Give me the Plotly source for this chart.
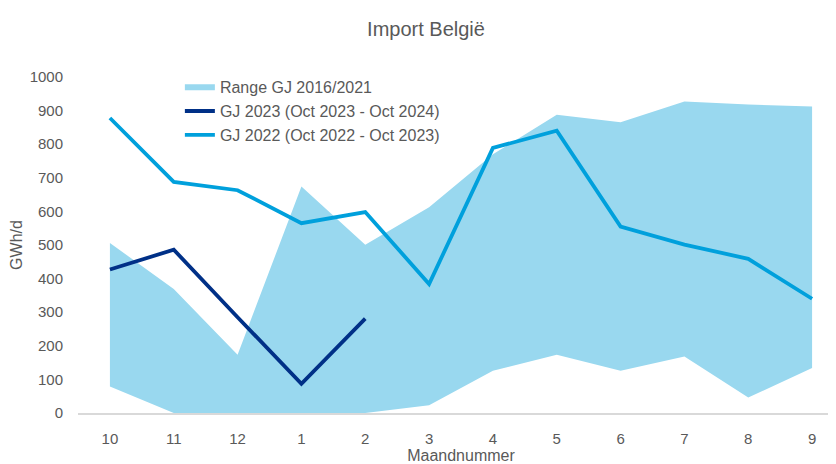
import plotly.graph_objects as go

# month numbers (gas year Oct -> Sep)
maanden = ["10", "11", "12", "1", "2", "3", "4", "5", "6", "7", "8", "9"]

range_min = [79, 0, 0, 0, 0, 23, 126, 173, 126, 168, 46, 134]
range_max = [506, 369, 173, 674, 501, 612, 770, 888, 865, 927, 918, 912]

gj_2023 = [427, 486, 285, 87, 281]
gj_2022 = [878, 688, 663, 565, 598, 384, 789, 840, 555, 501, 459, 340]

FILL = "#99d8ef"
NAVY = "#003087"
CYAN = "#00a0dc"
TEXT = "#595959"
FONT = "Liberation Sans, Arial, sans-serif"

fig = go.Figure()
fig.add_trace(go.Scatter(x=maanden, y=range_min, mode="lines", line=dict(width=0, color=FILL),
                         showlegend=False, hoverinfo="skip"))
fig.add_trace(go.Scatter(x=maanden, y=range_max, mode="none", fill="tonexty", fillcolor=FILL,
                         name="Range GJ 2016/2021"))
fig.add_trace(go.Scatter(x=maanden[:len(gj_2023)], y=gj_2023, mode="lines",
                         line=dict(color=NAVY, width=3.8), name="GJ 2023 (Oct 2023 - Oct 2024)"))
fig.add_trace(go.Scatter(x=maanden, y=gj_2022, mode="lines",
                         line=dict(color=CYAN, width=3.8), name="GJ 2022 (Oct 2022 - Oct 2023)"))

# page body has an 8px default margin, so the layout is shifted up/left by 8px
fig.update_layout(
    width=836, height=464,
    font=dict(family=FONT, color=TEXT, size=15),
    title=dict(text="Import België", x=0.5, xanchor="center", y=0.955, yanchor="middle",
               font=dict(size=20, color=TEXT)),
    paper_bgcolor="white", plot_bgcolor="white",
    margin=dict(l=70, r=0, t=69, b=59),
    legend=dict(x=0.133, y=1.02, xanchor="left", yanchor="top", bgcolor="rgba(0,0,0,0)",
                font=dict(size=16, color=TEXT), traceorder="normal", tracegroupgap=0),
    showlegend=True,
)
fig.update_xaxes(type="category", range=[-0.5, 11.5], automargin=False,
                 showgrid=False, zeroline=False, showline=True,
                 linecolor="#d9d9d9", linewidth=1.5, ticks="outside", ticklen=11, tickcolor="white",
                 tickfont=dict(size=15, color=TEXT),
                 title=dict(text="Maandnummer", font=dict(size=16, color=TEXT), standoff=4))
fig.update_yaxes(range=[0, 1000], dtick=100, automargin=False,
                 showgrid=False, zeroline=False, showline=False,
                 ticks="outside", ticklen=11, tickcolor="white",
                 tickfont=dict(size=15, color=TEXT),
                 title=dict(text="GWh/d", font=dict(size=16, color=TEXT), standoff=4))

fig.write_html("out.html")
